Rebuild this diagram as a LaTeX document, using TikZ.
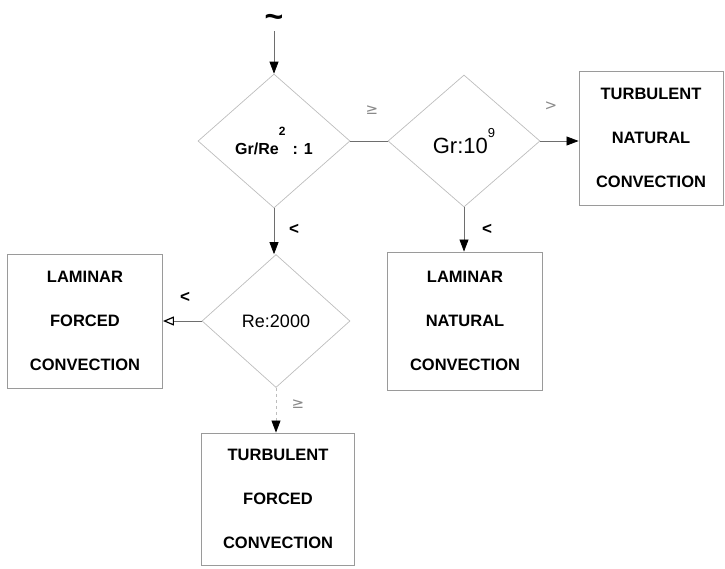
\documentclass[tikz,border=0pt]{standalone}
\usepackage{fontspec}
\setmainfont{Liberation Sans}
\newfontfamily\symfont{DejaVu Sans}
\usepackage{tikz}
\usetikzlibrary{positioning, shapes.geometric, arrows.meta}
\usepackage{xcolor}
\definecolor{edgecol}{HTML}{BDBDBD}
\definecolor{boxcol}{HTML}{9A9A9A}
\definecolor{flowcol}{HTML}{6E6E6E}
\definecolor{notecol}{HTML}{8A8A8A}
\tikzset{
  % decision = diamond test
  decision/.style={diamond, draw=edgecol, line width=0.7pt,
                   inner sep=0pt, minimum width=#1},
  % outcome = regime box
  regime/.style={rectangle, draw=boxcol, line width=0.9pt, align=center,
                 inner sep=0pt, minimum width=153pt, minimum height=134pt,
                 font=\bfseries\fontsize{16.5}{44}\selectfont},
  % connector with black filled head
  flow/.style={draw=flowcol, line width=0.7pt,
               -{Triangle[color=black, length=12pt, width=9pt]}},
  % comparison sign on a connector
  sign/.style={font=\bfseries\fontsize{17}{17}\selectfont, inner sep=1pt},
  signfaint/.style={font=\symfont\fontsize{15}{15}\selectfont,
                    text=notecol, inner sep=1pt},
}

\begin{document}
\begin{tikzpicture}[x=1pt, y=-1pt]
  \useasboundingbox (0,0) rectangle (725,568);
  % decisions
  \node[decision=152pt, minimum height=134pt] (ratio) at (274,141)
    {\bfseries\fontsize{16}{16}\selectfont Gr/Re\raisebox{19pt}{\fontsize{12}{12}\selectfont 2}\, : 1};
  \node[decision=152pt, minimum height=132pt] (grash) at (464,141)
    {\fontsize{22}{22}\selectfont Gr:10\raisebox{16pt}{\fontsize{13}{13}\selectfont 9}};
  \node[decision=148pt, minimum height=133pt] (reyn) at (276,321)
    {\fontsize{18}{18}\selectfont Re:2000};
  % outcomes
  \node[regime, minimum width=144pt] (tnc) at (651,138)
    {TURBULENT\\NATURAL\\CONVECTION};
  \node[regime, minimum width=155pt, minimum height=138pt] (lnc) at (465,321)
    {LAMINAR\\NATURAL\\CONVECTION};
  \node[regime, minimum width=155pt] (lfc) at (85,321)
    {LAMINAR\\FORCED\\CONVECTION};
  \node[regime, minimum height=132pt] (tfc) at (278,499)
    {TURBULENT\\FORCED\\CONVECTION};
  % entry
  \node[font=\bfseries\fontsize{32}{32}\selectfont, inner sep=0pt] (entry) at (274,21) {\char`\~};
  \coordinate (entryend) at (274,31);
  % connectors
  \draw[flow] (entryend) -- (ratio.north);
  \draw[draw=flowcol, line width=0.7pt] (ratio.east) -- (grash.west);
  \draw[flow] (grash.east) -- (grash.east -| tnc.west);
  \draw[flow] (grash.south) -- (grash.south |- lnc.north);
  \draw[flow] (ratio.south) -- (ratio.south |- reyn.north);
  \draw[draw=flowcol, line width=0.7pt,
        -{Triangle[open, color=black, line width=1.2pt, length=11pt, width=9pt]}]
    (reyn.west) -- (reyn.west -| lfc.east);
  \draw[flow, draw=edgecol, dashed] (reyn.south) -- (reyn.south |- tfc.north);
  % signs
  \node[signfaint] (ge1) at (372,110) {≥};
  \node[signfaint] (gt1) at (551,106) {>};
  \node[sign] (lt1) at (294,229) {<};
  \node[sign] (lt2) at (487,229) {<};
  \node[sign] (lt3) at (185,297) {<};
  \node[signfaint] (ge2) at (298,404) {≥};
\end{tikzpicture}
\end{document}
